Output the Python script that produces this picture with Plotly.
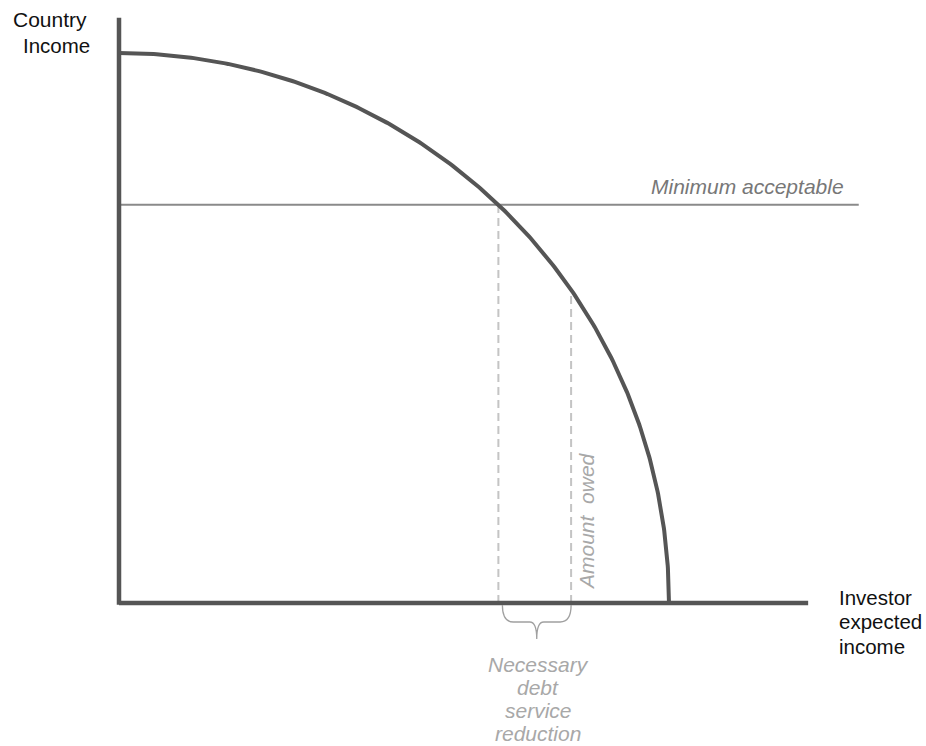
import numpy as np
import plotly.graph_objects as go

# ---- conceptual values (data units) ----
COUNTRY_MAX = 10.0        # frontier intercept on country income axis
INVESTOR_MAX = 10.0       # frontier intercept on investor income axis
MIN_ACCEPTABLE = 7.24     # minimum acceptable country income
AMOUNT_OWED = 8.22        # amount owed to investors
X_AXIS_END = 12.53
Y_AXIS_END = 10.64
MIN_LINE_END = 13.45

labels_y = ["Country", "Income"]
labels_x = ["Investor", "expected", "income"]
label_min = "Minimum acceptable"
label_owed = "Amount\u00a0 owed"
label_reduction = ["Necessary", "debt", "service", "reduction"]

# derived points on the frontier
t = np.linspace(0, np.pi / 2, 300)
fx = INVESTOR_MAX * np.sin(t)
fy = COUNTRY_MAX * np.cos(t)
x_needed = INVESTOR_MAX * np.sqrt(1 - (MIN_ACCEPTABLE / COUNTRY_MAX) ** 2)
y_owed = COUNTRY_MAX * np.sqrt(1 - (AMOUNT_OWED / INVESTOR_MAX) ** 2)

# body margin is removed below, so figure pixel = page pixel
W, H = 926, 746
PX0, PY0, S = 119, 603, 55.0
def dy(py):
    return (PY0 - py) / S

XMIN, XMAX = -1.0, (W - 40 - PX0) / S
YMIN, YMAX = -1.0, (PY0 - 8) / S
L = PX0 + XMIN * S
T = PY0 - YMAX * S
PW = (XMAX - XMIN) * S
PH = (YMAX - YMIN) * S
def px_paper(px):
    return (px - L) / PW
def py_paper(py):
    return (T + PH - py) / PH

fig = go.Figure()

AX = "#555555"
# dashed guides
fig.add_trace(go.Scatter(x=[x_needed, x_needed], y=[0, MIN_ACCEPTABLE], mode="lines",
                         line=dict(color="#c4c4c4", width=2, dash="8px,5px"), hoverinfo="skip"))
fig.add_trace(go.Scatter(x=[AMOUNT_OWED, AMOUNT_OWED], y=[0, y_owed], mode="lines",
                         line=dict(color="#c4c4c4", width=2, dash="8px,5px"), hoverinfo="skip"))
# minimum acceptable line
fig.add_trace(go.Scatter(x=[0, MIN_LINE_END], y=[MIN_ACCEPTABLE, MIN_ACCEPTABLE], mode="lines",
                         line=dict(color="#8a8a8a", width=2), hoverinfo="skip"))
# frontier
fig.add_trace(go.Scatter(x=fx, y=fy, mode="lines", line=dict(color=AX, width=4), hoverinfo="skip"))
# axes
fig.add_trace(go.Scatter(x=[0, 0], y=[Y_AXIS_END, -0.03], mode="lines",
                         line=dict(color=AX, width=4.5), hoverinfo="skip"))
fig.add_trace(go.Scatter(x=[0, X_AXIS_END], y=[0, 0], mode="lines",
                         line=dict(color=AX, width=4.5), hoverinfo="skip"))

# brace under the reduction interval
a, b = x_needed + 4 / S, AMOUNT_OWED
m = (a + b) / 2
ytop, ymid, ytip = dy(605), dy(622), dy(639)
r = 11 / S
k = 7 / S
path = (f"M {a},{ytop} Q {a},{ymid} {a + r},{ymid} L {m - k},{ymid} "
        f"Q {m},{ymid} {m},{ytip} Q {m},{ymid} {m + k},{ymid} "
        f"L {b - r},{ymid} Q {b},{ymid} {b},{ytop}")
fig.add_shape(type="path", path=path, xref="x", yref="y",
              line=dict(color="#a0a0a0", width=1.3))

FONT = "Liberation Sans, Arial, sans-serif"
FS = 21
ann = []
def add(px, py, text, color, xanchor="left", angle=0, size=FS):
    ann.append(dict(x=px_paper(px), y=py_paper(py), xref="paper", yref="paper", text=text,
                    xanchor=xanchor, yanchor="middle", showarrow=False, textangle=angle,
                    font=dict(size=size, color=color, family=FONT)))

add(11, 20, labels_y[0], "#111111")
add(21, 45, labels_y[1], "#111111", size=20.5)
for i, s in enumerate(labels_x):
    add(837, 597 + 24.5 * i, s, "#111111", size=20.5)
add(747, 186, f"<i>{label_min}</i>", "#777777", xanchor="center")
add(586, 521, f"<i>{label_owed}</i>", "#a8a8a8", xanchor="center", angle=-90)
for i, s in enumerate(label_reduction):
    add(538, 664 + 23.3 * i, f"<i>{s}</i>", "#a8a8a8", xanchor="center")

fig.update_layout(
    width=W, height=H,
    margin=dict(l=L, r=W - L - PW, t=T, b=H - T - PH, autoexpand=False),
    paper_bgcolor="white", plot_bgcolor="white",
    showlegend=False,
    hovermode=False,
    xaxis=dict(range=[XMIN, XMAX], visible=False, fixedrange=True),
    yaxis=dict(range=[YMIN, YMAX], visible=False, fixedrange=True),
    annotations=ann,
)

fig.write_html("out.html", config={"displayModeBar": False, "staticPlot": True},
               post_script="document.body.style.margin='0';document.body.style.overflow='hidden';")
